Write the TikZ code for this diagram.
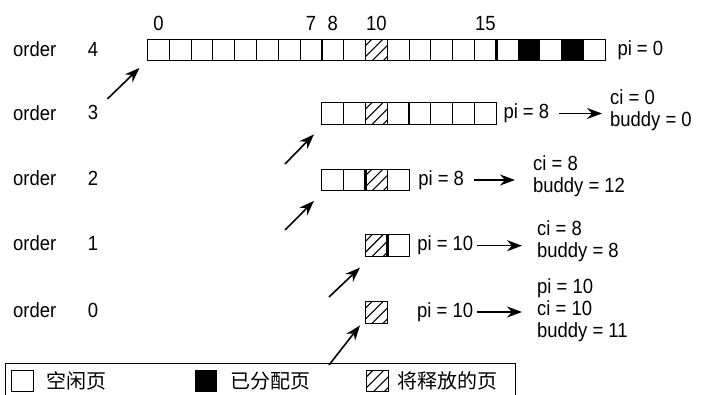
\documentclass[tikz,border=0pt]{standalone}
\usepackage{fontspec}
\setmainfont{Liberation Sans}[FakeStretch=0.9]
\newfontfamily\cjk{Noto Sans CJK SC}
\usepackage{tikz}
\usetikzlibrary{arrows.meta, positioning}
\tikzset{
  cell/.style={rectangle, draw=black, line width=0.9pt, minimum size=21.8pt,
               inner sep=0pt, outer sep=0pt},
  used/.style={cell, fill=black},
  hatch/.style={cell, path picture={
      \foreach \off in {-0.7,-0.2,0.3,0.8}
        \draw[line width=1.1pt] ([xshift={\off*21.8pt}]path picture bounding box.south west) -- ++(21.8pt,21.8pt);}},
  bound/.style={line width=2.6pt},
  txt/.style={font=\fontsize{20.5}{22}\selectfont, inner sep=0pt},
  legtxt/.style={font=\cjk\fontsize{20}{24}\selectfont, inner sep=0pt},
  arrow/.style={-{Stealth[length=15pt, width=11pt]}, line width=1.6pt},
}

\begin{document}
\begin{tikzpicture}[x=1pt, y=-1pt]
  \useasboundingbox (0,0) rectangle (704,395);

  % order labels
  \foreach \n/\y in {4/49,3/112.7,2/178.3,1/243.3,0/310} {
    \node[txt, anchor=west] (o\n) at (13,\y) {order};
    \node[txt] (k\n) at (93,\y) {\n};
  }

  % page rows
  \foreach \i in {0,...,20}
    \node[cell] (p4-\i) at ({147.5+(\i+0.5)*21.8}, 50) {};
  \foreach \i in {8,...,15}
    \node[cell] (p3-\i) at ({147.5+(\i+0.5)*21.8}, 113.5) {};
  \foreach \i in {8,...,11}
    \node[cell] (p2-\i) at ({147.5+(\i+0.5)*21.8}, 180) {};
  \foreach \i in {10,11}
    \node[cell] (p1-\i) at ({147.5+(\i+0.5)*21.8}, 245.7) {};
  \node[hatch] (p0-10) at ({147.5+10.5*21.8}, 312.5) {};

  \node[hatch] (h4) at (p4-10) {};
  \node[hatch] (h3) at (p3-10) {};
  \node[hatch] (h2) at (p2-10) {};
  \node[hatch] (h1) at (p1-10) {};
  \node[used] (u17) at (p4-17) {};
  \node[used] (u19) at (p4-19) {};

  \draw[bound] (p4-7.north east) -- (p4-7.south east);
  \draw[bound] (p4-15.north east) -- (p4-15.south east);
  \draw[bound] (p3-11.north east) -- (p3-11.south east);
  \draw[bound] (p2-9.north east) -- (p2-9.south east);
  \draw[bound] (p1-10.north east) -- (p1-10.south east);

  % page numbers
  \foreach \i in {0,7,8,10,15}
    \node[txt, above=8pt of p4-\i] (n\i) {\i};

  % pi / ci / buddy
  \node[txt, right=12pt of p4-20] (pi4) {pi = 0};

  \node[txt, right=7pt of p3-15] (pi3) {pi = 8};
  \node[txt, align=left, anchor=west] (ci3) at (610,110) {ci = 0\\buddy = 0};
  \draw[arrow, shorten <=10pt, shorten >=8pt] (pi3.east) -- (pi3.east -| ci3.west);

  \node[txt, right=9pt of p2-11] (pi2) {pi = 8};
  \node[txt, align=left, anchor=west] (ci2) at (533,176.5) {ci = 8\\buddy = 12};
  \draw[arrow, shorten <=10pt, shorten >=18pt] (pi2.east) -- (pi2.east -| ci2.west);

  \node[txt, right=8pt of p1-11] (pi1) {pi = 10};
  \node[txt, align=left, anchor=west] (ci1) at (537,241.5) {ci = 8\\buddy = 8};
  \draw[arrow, shorten <=4pt, shorten >=15pt] (pi1.east) -- (pi1.east -| ci1.west);

  \node[txt, anchor=west] (pi0) at (417,312) {pi = 10};
  \node[txt, align=left, anchor=west] (ci0) at (537,310) {pi = 10\\ci = 10\\buddy = 11};
  \draw[arrow, shorten <=4pt, shorten >=15pt] (pi0.east) -- (pi0.east -| ci0.west);

  % split arrows
  \coordinate (s4) at (107.3,99);
  \coordinate (s3) at (285,164);
  \coordinate (s2) at (285,230);
  \coordinate (s1) at (329,297);
  \coordinate (s0) at (329,365);
  \draw[arrow] (s4) -- ([xshift=-8pt, yshift=-7pt]p4-0.south west);
  \draw[arrow] (s3) -- ([xshift=-8pt, yshift=-10pt]p3-8.south west);
  \draw[arrow] (s2) -- ([xshift=-8pt, yshift=-10pt]p2-8.south west);
  \draw[arrow] (s1) -- ([xshift=-5.5pt, yshift=-11pt]p1-10.south west);
  \draw[arrow] (s0) -- ([xshift=-5.5pt, yshift=-2pt]p0-10.south west);

  % legend
  \node[draw, line width=1pt, minimum width=510pt, minimum height=31.5pt,
        inner sep=0pt, anchor=north west] (legend) at (5,363) {};
  \node[cell] (lg-free) at (22.5,381) {};
  \node[legtxt, right=13pt of lg-free] (t-free) {空闲页};
  \node[used] (lg-used) at (206,381) {};
  \node[legtxt, right=13pt of lg-used] (t-used) {已分配页};
  \node[hatch] (lg-hatch) at (377.5,381) {};
  \node[legtxt, right=9pt of lg-hatch] (t-hatch) {将释放的页};
\end{tikzpicture}
\end{document}
